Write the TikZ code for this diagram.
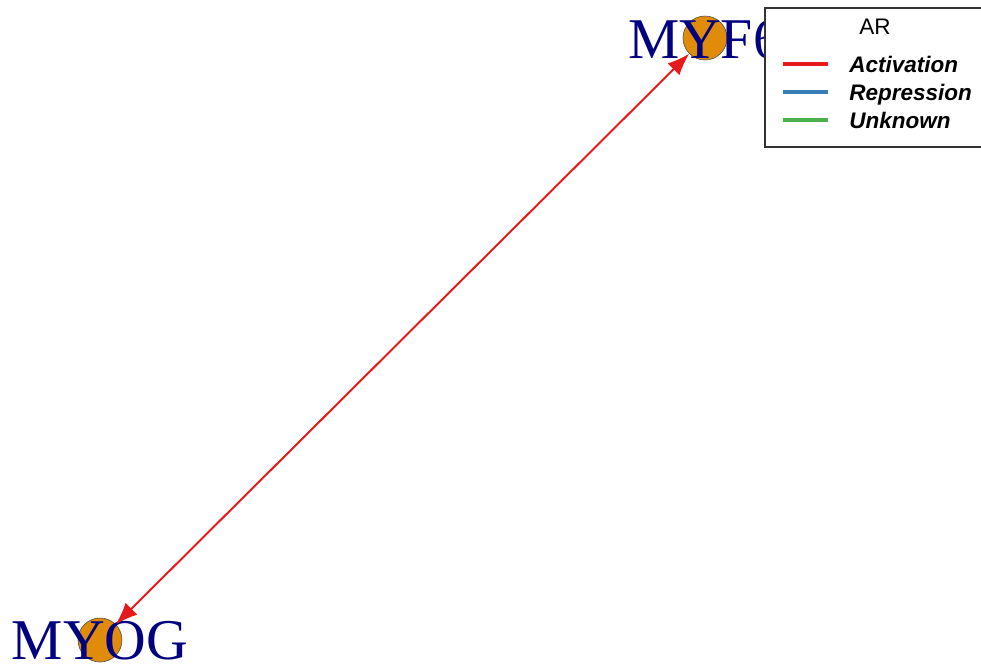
\documentclass[tikz,border=0pt]{standalone}
\usepackage{fontspec}
\usepackage{xcolor}
\usepackage{tikz}
\usetikzlibrary{arrows.meta}
\setmainfont{Liberation Serif}
\setsansfont{Liberation Sans}
\definecolor{genefill}{RGB}{224,140,10}
\definecolor{genetext}{RGB}{0,0,128}
\definecolor{actred}{RGB}{228,26,28}
\definecolor{repblue}{RGB}{55,126,184}
\definecolor{unkgreen}{RGB}{77,175,74}
\begin{document}
\begin{tikzpicture}[x=0.025cm, y=-0.025cm,
    gene/.style={circle, draw=black!70, fill=genefill, minimum size=1.1cm, inner sep=0pt},
    genelabel/.style={anchor=base, text=genetext, font=\fontsize{41}{41}\selectfont, inner sep=0pt},
    legtext/.style={anchor=base west, font=\sffamily\bfseries\itshape\fontsize{16}{16}\selectfont, inner sep=0pt}]
        \clip (0,0) rectangle (981,667);
        \node[gene] (myog) at (100,640) {};
        \node[gene] (myf) at (705,38) {};
        \node[genelabel] (myoglab) at (100,659) {MYOG};
        \node[genelabel] (myflab) at (705,58) {MYF6};
        \draw[actred, line width=1.4pt, {Latex[length=0.55cm,width=0.42cm]}-{Latex[length=0.55cm,width=0.42cm]}] (myog) -- (myf);
        % legend
        \draw[black!80, fill=white, line width=0.8pt] (765,8) rectangle (990,147);
        \node[font=\sffamily\fontsize{16}{16}\selectfont] (legtitle) at (875,27) {AR};
        \draw[actred, line width=2.5pt] (783,64) -- (828,64);
        \draw[repblue, line width=2.5pt] (783,92) -- (828,92);
        \draw[unkgreen, line width=2.5pt] (783,120) -- (828,120);
        \node[legtext] (act) at (849,72) {Activation};
        \node[legtext] (rep) at (849,100) {Repression};
        \node[legtext] (unk) at (849,128) {Unknown};
    \end{tikzpicture}
\end{document}
